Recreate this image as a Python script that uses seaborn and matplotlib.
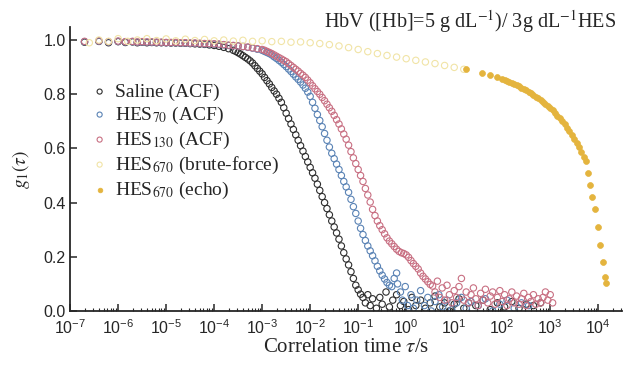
import numpy as np
import pandas as pd
import seaborn as sns
import matplotlib
matplotlib.use('Agg')
import matplotlib.pyplot as plt
from matplotlib.ticker import LogLocator, NullFormatter, MultipleLocator

# ---- data (log10 of tau in s, g1) ----
saline_logt = [-6.7, -6.4, -6.2, -6.0, -5.85, -5.7, -5.6, -5.5, -5.4, -5.3, -5.2, -5.1, -5.0,
               -4.9, -4.8, -4.7, -4.6, -4.5, -4.4, -4.3, -4.2, -4.1, -4.0, -3.9, -3.8, -3.7,
               -3.6, -3.55,
               -3.50, -3.45, -3.40, -3.35, -3.30, -3.25, -3.20, -3.15, -3.10, -3.05, -3.00,
               -2.95, -2.90, -2.85, -2.80, -2.75, -2.70, -2.65, -2.60, -2.55, -2.50, -2.45,
               -2.40, -2.35, -2.30, -2.25, -2.20, -2.15, -2.10, -2.05, -2.00, -1.95, -1.90,
               -1.85, -1.80, -1.75, -1.70, -1.65, -1.60, -1.55, -1.50, -1.45, -1.40, -1.35,
               -1.30, -1.25, -1.20, -1.15, -1.10, -1.05, -1.00, -0.95, -0.90,
               -0.85, -0.8, -0.75, -0.7, -0.62, -0.55, -0.5, -0.42, -0.35, -0.28, -0.2, -0.12,
               -0.05, 0.05, 0.12, 0.2, 0.3, 0.4, 0.5, 0.6, 0.7, 0.8, 0.9, 1.0, 1.1, 1.2, 1.3,
               1.45, 1.6, 1.75, 1.9, 2.05, 2.2, 2.35, 2.5, 2.65, 2.8]
saline_g = [0.992, 0.995, 0.99, 0.994, 0.991, 0.993, 0.99, 0.992, 0.99, 0.991, 0.99, 0.99, 0.99,
            0.989, 0.989, 0.988, 0.988, 0.987, 0.986, 0.985, 0.984, 0.982, 0.98, 0.977, 0.973, 0.968,
            0.962, 0.958,
            0.953, 0.948, 0.942, 0.936, 0.930, 0.923, 0.915, 0.905, 0.895, 0.885, 0.875,
            0.862, 0.850, 0.838, 0.825, 0.812, 0.800, 0.785, 0.770, 0.750, 0.730, 0.710,
            0.690, 0.670, 0.650, 0.630, 0.610, 0.590, 0.570, 0.550, 0.530, 0.510, 0.490,
            0.468, 0.445, 0.422, 0.400, 0.378, 0.355, 0.332, 0.310, 0.288, 0.265, 0.240,
            0.215, 0.192, 0.170, 0.145, 0.120, 0.095, 0.078, 0.062, 0.050,
            0.03, 0.06, 0.02, 0.045, 0.01, 0.05, 0.025, 0.07, 0.015, 0.04, 0.06, 0.02,
            0.035, 0.005, 0.05, 0.02, 0.04, 0.01, 0.03, 0.055, 0.015, 0.03, 0.0, 0.025, 0.045, 0.01, 0.03,
            0.02, 0.04, 0.005, 0.03, 0.015, 0.035, 0.01, 0.025, 0.02, 0.03]

hes70_logt = [-6.7, -6.4, -6.2, -6.0, -5.85, -5.7, -5.6, -5.5, -5.4, -5.3, -5.2, -5.1, -5.0,
              -4.9, -4.8, -4.7, -4.6, -4.5, -4.4, -4.3, -4.2, -4.1, -4.0, -3.9, -3.8, -3.7,
              -3.6, -3.5, -3.4, -3.3, -3.2, -3.1,
              -3.00, -2.95, -2.90, -2.85, -2.80, -2.75, -2.70, -2.65, -2.60, -2.55, -2.50,
              -2.45, -2.40, -2.35, -2.30, -2.25, -2.20, -2.15, -2.10, -2.05, -2.00, -1.95,
              -1.90, -1.85, -1.80, -1.75, -1.70, -1.65, -1.60, -1.55, -1.50, -1.45, -1.40,
              -1.35, -1.30, -1.25, -1.20, -1.15, -1.10, -1.05, -1.00, -0.95, -0.90, -0.85,
              -0.80, -0.75, -0.70, -0.65, -0.60, -0.55, -0.50, -0.45, -0.40, -0.35, -0.30,
              -0.25, -0.2, -0.18, -0.12, -0.08, -0.02, 0.03, 0.1, 0.15, 0.22, 0.3, 0.38, 0.45,
              0.52, 0.6, 0.68, 0.76, 0.85, 0.95, 1.05, 1.15, 1.25, 1.35, 1.5, 1.65, 1.8, 1.95,
              2.1, 2.25, 2.4, 2.55]
hes70_g = [0.994, 0.996, 0.993, 0.995, 0.993, 0.994, 0.992, 0.993, 0.992, 0.992, 0.991, 0.991, 0.99,
           0.99, 0.99, 0.989, 0.989, 0.988, 0.988, 0.987, 0.986, 0.986, 0.985, 0.984, 0.982, 0.98,
           0.979, 0.978, 0.976, 0.973, 0.97, 0.966,
           0.962, 0.958, 0.954, 0.950, 0.945, 0.938, 0.932, 0.925, 0.918, 0.910, 0.902,
           0.893, 0.884, 0.874, 0.864, 0.855, 0.845, 0.834, 0.822, 0.808, 0.792, 0.770,
           0.748, 0.725, 0.703, 0.680, 0.655, 0.630, 0.605, 0.582, 0.562, 0.542, 0.522,
           0.500, 0.478, 0.458, 0.438, 0.412, 0.385, 0.360, 0.332, 0.305, 0.282, 0.260,
           0.240, 0.222, 0.204, 0.185, 0.165, 0.148, 0.132, 0.118, 0.105, 0.095, 0.09,
           0.12, 0.14, 0.10, 0.07, 0.04, 0.09, 0.02, 0.06, 0.01, 0.04, 0.075, 0.02, 0.05,
           0.0, 0.035, 0.06, 0.015, 0.04, 0.005, 0.03, 0.05, 0.01, 0.035, 0.02, 0.045, 0.0, 0.025,
           0.04, 0.01, 0.03, 0.02]

hes130_logt = [-6.7, -6.4, -6.2, -6.0, -5.85, -5.7, -5.6, -5.5, -5.4, -5.3, -5.2, -5.1, -5.0,
               -4.9, -4.8, -4.7, -4.6, -4.5, -4.4, -4.3, -4.2, -4.1, -4.0, -3.9, -3.8, -3.7,
               -3.6, -3.5, -3.4, -3.3, -3.2, -3.1,
               -3.00, -2.95, -2.90, -2.85, -2.80, -2.75, -2.70, -2.65, -2.60, -2.55, -2.50,
               -2.45, -2.40, -2.35, -2.30, -2.25, -2.20, -2.15, -2.10, -2.05, -2.00, -1.95,
               -1.90, -1.85, -1.80, -1.75, -1.70, -1.65, -1.60, -1.55, -1.50, -1.45, -1.40,
               -1.35, -1.30, -1.25, -1.20, -1.15, -1.10, -1.05, -1.00, -0.95, -0.90, -0.85,
               -0.80, -0.75, -0.70, -0.65, -0.60, -0.55, -0.50, -0.45, -0.40, -0.35, -0.30,
               -0.25, -0.20, -0.15, -0.10, -0.05, 0.00, 0.05, 0.10, 0.15, 0.20, 0.25, 0.30,
               0.35, 0.40, 0.45, 0.50, 0.55,
               0.6, 0.65, 0.7, 0.75, 0.8, 0.85, 0.9, 0.95, 1.0, 1.05, 1.1, 1.15, 1.2, 1.25, 1.3,
               1.35, 1.4, 1.45, 1.5, 1.55, 1.6, 1.65, 1.7, 1.75, 1.8, 1.85, 1.9, 1.95, 2.0, 2.05,
               2.1, 2.15, 2.2, 2.25, 2.3, 2.35, 2.4, 2.45, 2.5, 2.55, 2.6, 2.65, 2.7, 2.75, 2.8,
               2.85, 2.9, 2.95, 3.0, 3.05]
hes130_g = [0.995, 0.997, 0.994, 0.996, 0.994, 0.995, 0.993, 0.994, 0.993, 0.993, 0.992, 0.992, 0.991,
            0.991, 0.991, 0.99, 0.99, 0.989, 0.989, 0.988, 0.987, 0.987, 0.986, 0.985, 0.983, 0.981,
            0.98, 0.978, 0.976, 0.974, 0.971, 0.968,
            0.965, 0.962, 0.958, 0.954, 0.950, 0.945, 0.940, 0.935, 0.930, 0.925, 0.920,
            0.913, 0.906, 0.899, 0.892, 0.885, 0.877, 0.870, 0.862, 0.852, 0.842, 0.831,
            0.820, 0.810, 0.800, 0.788, 0.776, 0.763, 0.750, 0.737, 0.722, 0.706, 0.690,
            0.672, 0.653, 0.634, 0.612, 0.588, 0.565, 0.544, 0.522, 0.500, 0.478, 0.452,
            0.428, 0.402, 0.375, 0.352, 0.332, 0.315, 0.300, 0.285, 0.270, 0.258, 0.248,
            0.238, 0.228, 0.220, 0.215, 0.212, 0.207, 0.198, 0.186, 0.175, 0.165, 0.155, 0.140,
            0.128, 0.118, 0.108, 0.098, 0.092,
            0.07, 0.11, 0.05, 0.085, 0.04, 0.095, 0.06, 0.03, 0.075, 0.05, 0.09, 0.12, 0.04, 0.07, 0.03,
            0.06, 0.085, 0.045, 0.02, 0.065, 0.04, 0.08, 0.03, 0.055, 0.07, 0.025, 0.05, 0.075, 0.035, 0.06,
            0.02, 0.045, 0.07, 0.03, 0.055, 0.025, 0.045, 0.065, 0.02, 0.05, 0.035, 0.06, 0.025, 0.045, 0.03,
            0.05, 0.07, 0.04, 0.06, 0.03]

brute_logt = [-6.6, -6.4, -6.2, -6.0, -5.8, -5.6, -5.4, -5.2, -5.0, -4.8, -4.6, -4.4, -4.2,
              -4.0, -3.8, -3.6, -3.4, -3.2, -3.0, -2.8, -2.6, -2.4, -2.2, -2.0, -1.8, -1.6,
              -1.4, -1.2, -1.0, -0.8, -0.6, -0.4, -0.2, 0.0, 0.2, 0.4, 0.6, 0.8, 1.0, 1.2]
brute_g = [0.99, 1.0, 0.995, 1.005, 0.995, 1.0, 1.005, 0.998, 1.004, 0.997, 1.003, 0.998, 1.002,
           0.997, 1.0, 0.996, 0.999, 0.995, 0.997, 0.994, 0.995, 0.992, 0.993, 0.99, 0.987, 0.983,
           0.978, 0.972, 0.965, 0.957, 0.950, 0.943, 0.937, 0.931, 0.925, 0.919, 0.913, 0.906, 0.899, 0.892]

echo_logt = [1.25, 1.58, 1.75, 1.9,
             2.00, 2.05, 2.10, 2.15, 2.20, 2.25, 2.30, 2.35, 2.40, 2.45, 2.50, 2.55, 2.60,
             2.65, 2.70, 2.75, 2.80, 2.85, 2.90, 2.95, 3.00, 3.05, 3.10, 3.15, 3.20, 3.25,
             3.30, 3.35, 3.40, 3.45, 3.50, 3.55, 3.60, 3.65, 3.70, 3.75,
             3.79, 3.83, 3.88, 3.94, 3.99, 4.04, 4.09, 4.14, 4.16]
echo_g = [0.892, 0.878, 0.87, 0.862,
          0.856, 0.853, 0.850, 0.846, 0.842, 0.838, 0.834, 0.829, 0.824, 0.819, 0.814, 0.808, 0.803,
          0.797, 0.791, 0.785, 0.778, 0.771, 0.764, 0.756, 0.748, 0.740, 0.731, 0.721, 0.711, 0.700,
          0.689, 0.677, 0.664, 0.650, 0.636, 0.621, 0.605, 0.588, 0.570, 0.552,
          0.51, 0.465, 0.42, 0.375, 0.31, 0.245, 0.18, 0.125, 0.105]

labels = ['Saline (ACF)', 'HES$_{70}$ (ACF)', 'HES$_{130}$ (ACF)',
          'HES$_{670}$ (brute-force)', 'HES$_{670}$ (echo)']

# ---- style ----
sns.set_style('ticks')
plt.rcParams['font.family'] = ['Liberation Sans', 'DejaVu Sans']
plt.rcParams['xtick.direction'] = 'in'
plt.rcParams['ytick.direction'] = 'in'
serif = ['Liberation Serif', 'DejaVu Serif']

fig = plt.figure(figsize=(6.26, 3.65), dpi=100)
ax = fig.add_axes([0.112, 0.148, 0.882, 0.778])

series = [
    (saline_logt, saline_g, '#2e2e2e', False),
    (hes70_logt, hes70_g, '#5a83b5', False),
    (hes130_logt, hes130_g, '#c86f82', False),
    (brute_logt, brute_g, '#f1e4a6', False),
    (echo_logt, echo_g, '#e4b43e', True),
]
for (lt, g, c, filled), lab in zip(series, labels):
    df = pd.DataFrame({'tau': np.power(10.0, lt), 'g1': g})
    if filled:
        sns.scatterplot(data=df, x='tau', y='g1', ax=ax, color=c, edgecolor=c,
                        s=18, linewidth=0.5, label=lab, zorder=3)
    else:
        sns.scatterplot(data=df, x='tau', y='g1', ax=ax, facecolors='none', edgecolor=c,
                        s=21, linewidth=0.8, label=lab, zorder=2)

ax.set_xscale('log')
ax.set_xlim(1e-7, 10 ** 4.5)
ax.set_ylim(0, 1.048)
ax.yaxis.set_major_locator(MultipleLocator(0.2))
ax.yaxis.set_major_formatter(matplotlib.ticker.FormatStrFormatter('%.1f'))
ax.xaxis.set_major_locator(LogLocator(base=10, numticks=20))
ax.xaxis.set_minor_locator(LogLocator(base=10, subs=np.arange(2, 10), numticks=200))
ax.xaxis.set_minor_formatter(NullFormatter())
ax.tick_params(axis='both', which='major', length=5, width=1.1, labelsize=11.5, pad=3)
ax.tick_params(axis='x', which='minor', length=2.5, width=0.8)
ax.tick_params(axis='x', which='major', pad=5)
sns.despine(ax=ax)
for sp in ['left', 'bottom']:
    ax.spines[sp].set_linewidth(1.3)

ax.set_xlabel(r'Correlation time $\tau$/s', family=serif, fontsize=15,
              math_fontfamily='stix', labelpad=1)
ax.set_ylabel(r'$g_1(\tau)$', fontsize=14, math_fontfamily='stix', labelpad=8)

leg = ax.legend(loc='upper left', bbox_to_anchor=(0.02, 0.83), frameon=False,
                prop={'family': serif, 'size': 14}, handletextpad=0.25,
                labelspacing=0.2, borderaxespad=0, handlelength=1.1, markerscale=0.8)
for t in leg.get_texts():
    t.set_math_fontfamily('stix')

fig.text(0.985, 0.925, r'HbV ([Hb]=5 g dL$^{-1}$)/ 3g dL$^{-1}$HES', ha='right', va='baseline',
         family=serif, fontsize=14.5, math_fontfamily='stix')

fig.savefig('out.png', dpi=100)
